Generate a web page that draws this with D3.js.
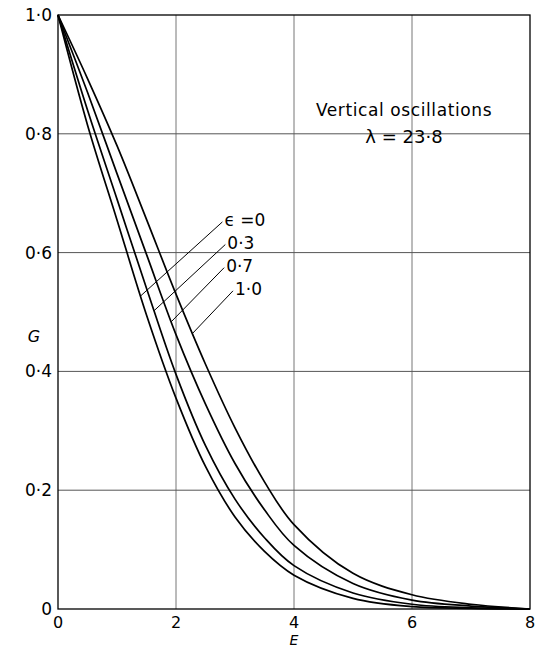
<!DOCTYPE html>
<html>
<head>
<meta charset="utf-8">
<script src="https://cdn.jsdelivr.net/npm/d3@7"></script>
<style>
  body { margin: 0; background: #fff; }
  svg { display: block; font-family: "DejaVu Sans", sans-serif; }
</style>
</head>
<body>
<div class="chartBox"></div>
<script>
// values
var eValues = [0, 0.5, 1, 1.5, 2, 2.5, 3, 3.5, 4, 5, 6, 7, 8];
var gEps0  = [1.0, 0.815, 0.655, 0.495, 0.355, 0.24, 0.155, 0.097, 0.057, 0.018, 0.004, 0.001, 0.0];
var gEps03 = [1.0, 0.84, 0.69, 0.54, 0.395, 0.275, 0.185, 0.12, 0.073, 0.027, 0.008, 0.002, 0.0];
var gEps07 = [1.0, 0.87, 0.733, 0.597, 0.462, 0.345, 0.245, 0.167, 0.107, 0.043, 0.015, 0.005, 0.0];
var gEps10 = [1.0, 0.893, 0.78, 0.656, 0.53, 0.412, 0.305, 0.214, 0.142, 0.06, 0.024, 0.008, 0.0];

var seriesNames = ['\u03f5 =0', '0\u00b73', '0\u00b77', '1\u00b70'];
var seriesValues = [gEps0, gEps03, gEps07, gEps10];
// where each leader line touches its curve (E), and where its label sits (E, G)
var leaderE = [1.4, 1.63, 1.92, 2.28];
var labelE = [2.82, 2.87, 2.85, 3.0];
var labelG = [0.655, 0.617, 0.578, 0.539];

var xTicks = [0, 2, 4, 6, 8];
var yTicks = [0, 0.2, 0.4, 0.6, 0.8, 1.0];
var yTickText = ['0', '0\u00b72', '0\u00b74', '0\u00b76', '0\u00b78', '1\u00b70'];

var width = 545, height = 653;
var svg = d3.select('.chartBox')
    .append('svg')
    .attr('width', width)
    .attr('height', height);

var x = d3.scaleLinear().domain([0, 8]).range([58, 530]);
var y = d3.scaleLinear().domain([0, 1]).range([609, 15]);

// grid
svg.append('g').selectAll('line')
    .data(xTicks.slice(1, -1))
    .enter().append('line')
    .attr('x1', d => x(d)).attr('x2', d => x(d))
    .attr('y1', y(0)).attr('y2', y(1))
    .attr('stroke', '#777').attr('stroke-width', 1);

svg.append('g').selectAll('line')
    .data(yTicks.slice(1, -1))
    .enter().append('line')
    .attr('x1', x(0)).attr('x2', x(8))
    .attr('y1', d => y(d)).attr('y2', d => y(d))
    .attr('stroke', '#555').attr('stroke-width', 1);

// frame
svg.append('rect')
    .attr('x', x(0)).attr('y', y(1))
    .attr('width', x(8) - x(0)).attr('height', y(0) - y(1))
    .attr('fill', 'none')
    .attr('stroke', '#000')
    .attr('stroke-width', 1.3);

// tick labels
svg.append('g').selectAll('text')
    .data(yTicks)
    .enter().append('text')
    .attr('x', 52)
    .attr('y', d => y(d) + 6)
    .attr('text-anchor', 'end')
    .attr('font-size', 17)
    .text((d, i) => yTickText[i]);

svg.append('g').selectAll('text')
    .data(xTicks)
    .enter().append('text')
    .attr('x', d => x(d))
    .attr('y', 628)
    .attr('text-anchor', 'middle')
    .attr('font-size', 16)
    .text(d => d);

svg.append('text')
    .attr('x', x(4)).attr('y', 645)
    .attr('text-anchor', 'middle')
    .attr('font-size', 14)
    .attr('font-style', 'italic')
    .text('E');

svg.append('text')
    .attr('x', 34).attr('y', y(0.45))
    .attr('text-anchor', 'middle')
    .attr('font-size', 16)
    .attr('font-style', 'italic')
    .text('G');

// curves
var line = d3.line()
    .x(d => x(d[0]))
    .y(d => y(d[1]))
    .curve(d3.curveCatmullRom.alpha(0.5));

seriesValues.forEach(function (vals) {
    svg.append('path')
        .datum(eValues.map((e, i) => [e, vals[i]]))
        .attr('d', line)
        .attr('fill', 'none')
        .attr('stroke', '#000')
        .attr('stroke-width', 1.7);
});

// leader lines and labels
function gAt(vals, e) {
    var i = d3.bisectRight(eValues, e) - 1;
    var t = (e - eValues[i]) / (eValues[i + 1] - eValues[i]);
    return vals[i] + t * (vals[i + 1] - vals[i]);
}

seriesNames.forEach(function (name, i) {
    svg.append('line')
        .attr('x1', x(leaderE[i]))
        .attr('y1', y(gAt(seriesValues[i], leaderE[i])))
        .attr('x2', x(labelE[i]) - 2)
        .attr('y2', y(labelG[i]) + 2)
        .attr('stroke', '#000')
        .attr('stroke-width', 1);
    svg.append('text')
        .attr('x', x(labelE[i]))
        .attr('y', y(labelG[i]) + 6)
        .attr('font-size', 17)
        .text(name);
});

// annotation
svg.append('text')
    .attr('x', 404).attr('y', 116)
    .attr('text-anchor', 'middle')
    .attr('font-size', 17)
    .attr('letter-spacing', 0.6)
    .text('Vertical oscillations');

svg.append('text')
    .attr('x', 404).attr('y', 143)
    .attr('text-anchor', 'middle')
    .attr('font-size', 18)
    .text('\u03bb = 23\u00b78');
</script>
</body>
</html>
